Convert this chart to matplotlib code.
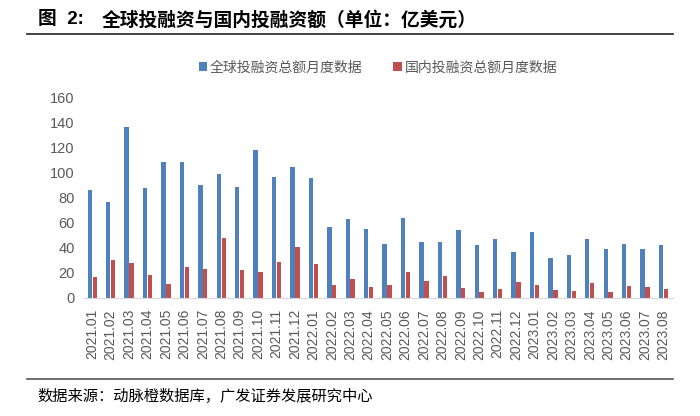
import numpy as np
import matplotlib
matplotlib.use("Agg")
import matplotlib.pyplot as plt
from matplotlib.lines import Line2D

months = ["2021.01", "2021.02", "2021.03", "2021.04", "2021.05", "2021.06",
          "2021.07", "2021.08", "2021.09", "2021.10", "2021.11", "2021.12",
          "2022.01", "2022.02", "2022.03", "2022.04", "2022.05", "2022.06",
          "2022.07", "2022.08", "2022.09", "2022.10", "2022.11", "2022.12",
          "2023.01", "2023.02", "2023.03", "2023.04", "2023.05", "2023.06",
          "2023.07", "2023.08"]

# global monthly financing (100M USD)
global_vals = [86, 77, 137, 88, 109, 108.5, 90.5, 99, 89, 118, 97, 105,
               96, 57, 63, 55, 43, 64, 45, 45, 54, 42, 47, 37,
               53, 32, 34, 47, 39, 43, 39, 42]
# domestic monthly financing (100M USD)
domestic_vals = [17, 30.5, 28, 18.5, 11.5, 25, 23.5, 48, 22, 21, 29, 40.5,
                 27.5, 10.5, 15.5, 9, 10, 21, 13.5, 17.5, 8, 4.5, 7.5, 13,
                 10.5, 6.5, 5.5, 12, 4.5, 9.5, 8.5, 7]

legend_labels = ["全球投融资总额月度数据", "国内投融资总额月度数据"]
title_num = "图  2:"
title_text = "全球投融资与国内投融资额（单位：亿美元）"
source_text = "数据来源：动脉橙数据库，广发证券发展研究中心"

cjk = ["Noto Sans CJK SC", "DejaVu Sans"]
blue = "#4F81BD"
red = "#C0504D"
gray = "#595959"

fig = plt.figure(figsize=(7, 4.16), dpi=100)
ax = fig.add_axes([0.1186, 0.2837, 0.8424, 0.4808])

x = np.arange(len(months))
w = 0.24
ax.bar(x - 0.135, global_vals, width=w, color=blue, label=legend_labels[0])
ax.bar(x + 0.135, domestic_vals, width=w, color=red, label=legend_labels[1])

ax.set_xlim(-0.5, len(months) - 0.5)
ax.set_ylim(0, 160)
ax.set_yticks(np.arange(0, 161, 20))
ax.set_xticks(x)
ax.set_xticklabels(months, rotation=90, family="Liberation Sans",
                   fontsize=10, color=gray)
for lab in ax.get_yticklabels():
    lab.set_family("Liberation Sans")
    lab.set_fontsize(10.5)
    lab.set_color(gray)
ax.tick_params(axis="both", length=0, pad=6)
ax.tick_params(axis="x", pad=8)
for s in ["top", "right", "left"]:
    ax.spines[s].set_visible(False)
ax.spines["bottom"].set_color("#D9D9D9")

leg = fig.legend(loc="center", bbox_to_anchor=(0.54, 0.838), ncol=2,
                 frameon=False, prop={"family": cjk, "size": 10},
                 handlelength=0.6, handleheight=0.6, handletextpad=0.2,
                 columnspacing=2.2)
for t in leg.get_texts():
    t.set_color(gray)

fig.text(38 / 700, 1 - 20 / 416, title_num,
         family=["Liberation Sans", "Noto Sans CJK SC"],
         fontsize=13.5, fontweight="bold", va="center", ha="left")
fig.text(102 / 700, 1 - 20 / 416, title_text, family=cjk,
         fontsize=13.5, fontweight="bold", va="center", ha="left")
fig.add_artist(Line2D([27 / 700, 673 / 700], [1 - 34 / 416, 1 - 34 / 416],
                      transform=fig.transFigure, color="#222222", lw=1.2))
fig.add_artist(Line2D([27 / 700, 673 / 700], [1 - 379 / 416, 1 - 379 / 416],
                      transform=fig.transFigure, color="#555555", lw=1.2))
fig.text(37 / 700, 1 - 396 / 416, source_text, family=cjk,
         fontsize=11, va="center", ha="left")

fig.savefig("out.png", dpi=100)
